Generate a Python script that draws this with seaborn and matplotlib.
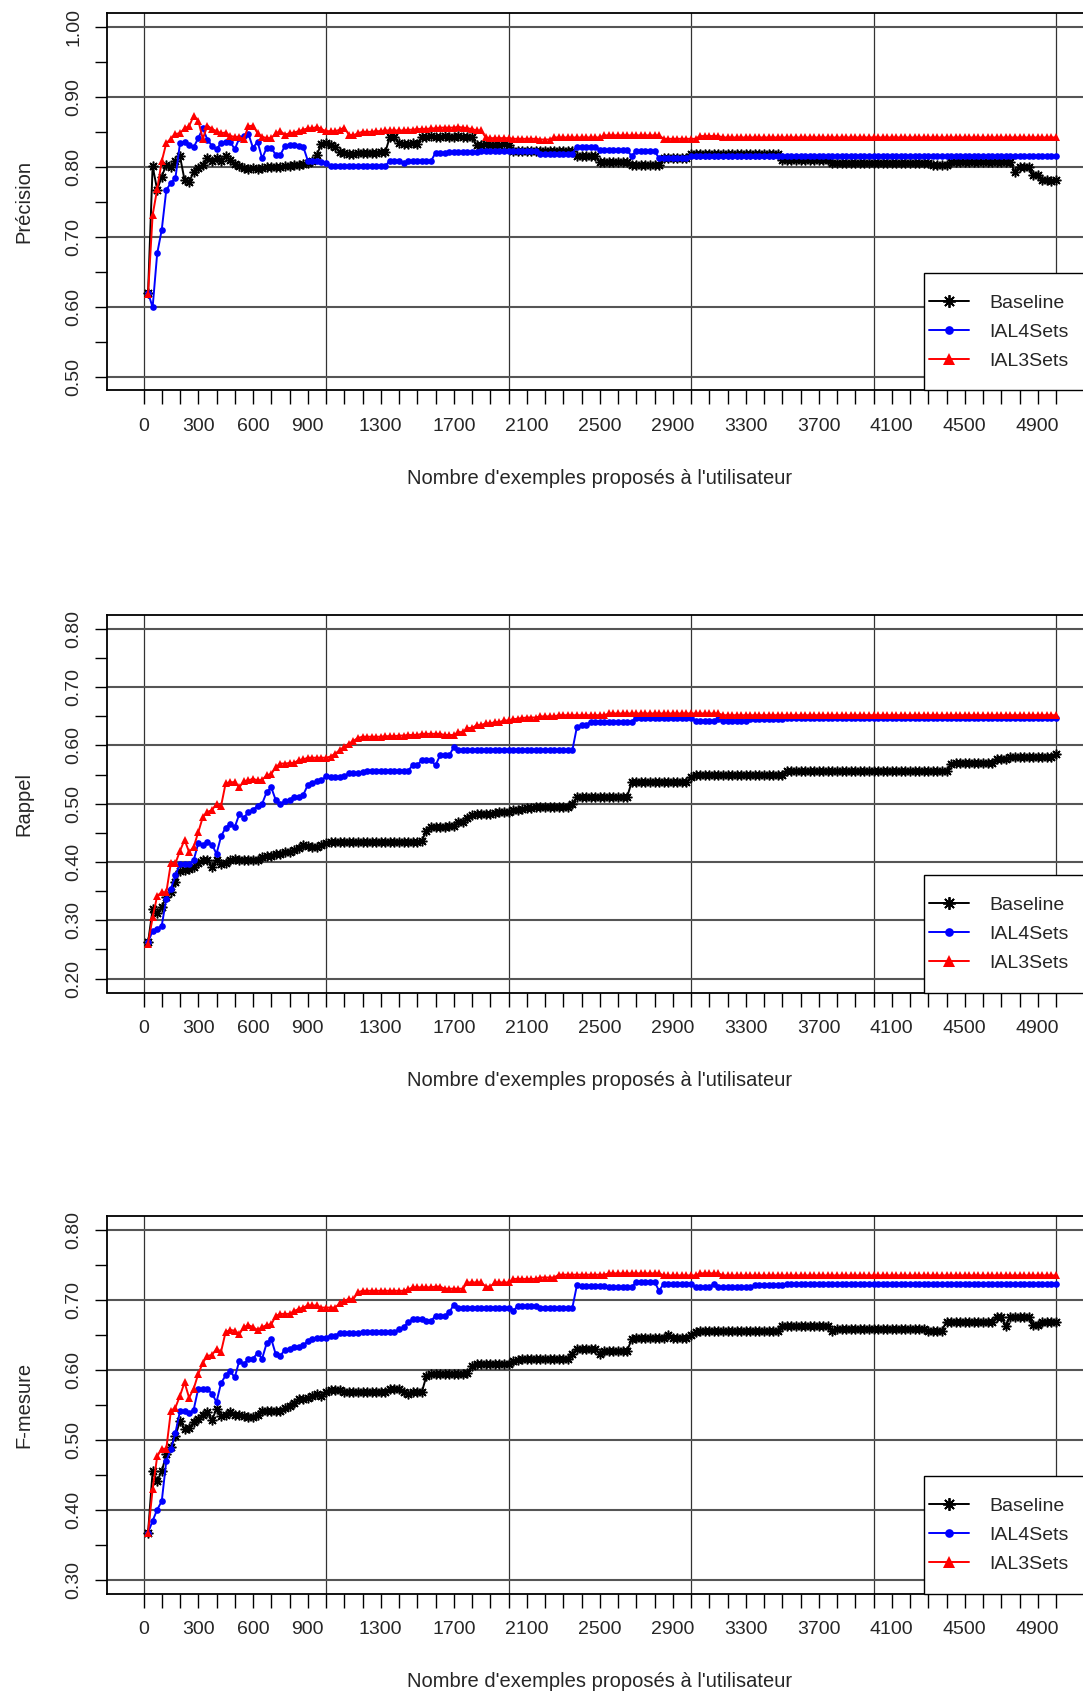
import numpy as np
import pandas as pd
import matplotlib
matplotlib.use("Agg")
import matplotlib.pyplot as plt
from matplotlib.lines import Line2D
from matplotlib.patches import Rectangle
import seaborn as sns

# ---------------- data (x = 25, 50, ..., 5000) ----------------
precision_baseline = [
    0.620, 0.801, 0.767, 0.786, 0.803, 0.800, 0.808, 0.815, 0.781, 0.778,
    0.793, 0.798, 0.803, 0.812, 0.808, 0.812, 0.808, 0.815, 0.810, 0.804,
    0.801, 0.798, 0.797, 0.798, 0.797, 0.798, 0.800, 0.800, 0.800, 0.800,
    0.801, 0.801, 0.802, 0.803, 0.804, 0.806, 0.808, 0.817, 0.833, 0.834,
    0.831, 0.829, 0.821, 0.820, 0.819, 0.819, 0.820, 0.820, 0.820, 0.820,
    0.820, 0.821, 0.821, 0.843, 0.842, 0.834, 0.833, 0.833, 0.834, 0.833,
    0.843, 0.843, 0.844, 0.843, 0.843, 0.844, 0.843, 0.843, 0.844, 0.843,
    0.843, 0.842, 0.831, 0.831, 0.832, 0.831, 0.831, 0.831, 0.832, 0.831,
    0.823, 0.822, 0.822, 0.823, 0.822, 0.823, 0.823, 0.823, 0.823, 0.823,
    0.823, 0.823, 0.823, 0.823, 0.816, 0.815, 0.816, 0.816, 0.815, 0.807,
    0.807, 0.807, 0.807, 0.807, 0.807, 0.807, 0.803, 0.803, 0.803, 0.803,
    0.803, 0.803, 0.803, 0.812, 0.812, 0.812, 0.812, 0.812, 0.812, 0.819,
    0.819, 0.819, 0.819, 0.819, 0.819, 0.819, 0.819, 0.819, 0.819, 0.819,
    0.819, 0.819, 0.819, 0.819, 0.819, 0.819, 0.819, 0.819, 0.819, 0.810,
    0.810, 0.810, 0.810, 0.810, 0.810, 0.810, 0.810, 0.810, 0.810, 0.810,
    0.805, 0.805, 0.805, 0.805, 0.805, 0.805, 0.805, 0.805, 0.805, 0.805,
    0.805, 0.805, 0.805, 0.805, 0.805, 0.805, 0.805, 0.805, 0.805, 0.805,
    0.805, 0.805, 0.802, 0.802, 0.802, 0.802, 0.807, 0.807, 0.807, 0.807,
    0.807, 0.807, 0.807, 0.807, 0.807, 0.807, 0.807, 0.807, 0.807, 0.807,
    0.792, 0.800, 0.800, 0.800, 0.788, 0.788, 0.781, 0.781, 0.780, 0.781,
]
precision_ial4 = [
    0.620, 0.599, 0.676, 0.710, 0.767, 0.777, 0.784, 0.834, 0.836, 0.831,
    0.828, 0.841, 0.855, 0.839, 0.830, 0.825, 0.834, 0.835, 0.836, 0.825,
    0.841, 0.844, 0.847, 0.827, 0.836, 0.812, 0.827, 0.827, 0.817, 0.817,
    0.830, 0.831, 0.831, 0.830, 0.829, 0.809, 0.808, 0.808, 0.807, 0.806,
    0.801, 0.801, 0.801, 0.801, 0.801, 0.801, 0.801, 0.801, 0.801, 0.801,
    0.801, 0.801, 0.801, 0.809, 0.809, 0.809, 0.805, 0.808, 0.808, 0.808,
    0.808, 0.808, 0.808, 0.820, 0.820, 0.820, 0.821, 0.821, 0.821, 0.821,
    0.821, 0.821, 0.821, 0.823, 0.823, 0.823, 0.823, 0.823, 0.823, 0.823,
    0.822, 0.822, 0.822, 0.822, 0.822, 0.822, 0.819, 0.819, 0.819, 0.819,
    0.819, 0.819, 0.819, 0.819, 0.829, 0.829, 0.829, 0.829, 0.829, 0.824,
    0.824, 0.824, 0.824, 0.824, 0.824, 0.824, 0.815, 0.823, 0.823, 0.823,
    0.823, 0.823, 0.812, 0.812, 0.812, 0.812, 0.812, 0.812, 0.812, 0.816,
    0.816, 0.816, 0.816, 0.816, 0.816, 0.816, 0.816, 0.816, 0.816, 0.816,
    0.816, 0.816, 0.815, 0.815, 0.815, 0.815, 0.815, 0.815, 0.815, 0.815,
    0.815, 0.815, 0.815, 0.815, 0.815, 0.815, 0.815, 0.815, 0.815, 0.815,
    0.815, 0.815, 0.815, 0.815, 0.815, 0.815, 0.815, 0.815, 0.815, 0.815,
    0.815, 0.815, 0.815, 0.815, 0.815, 0.815, 0.815, 0.815, 0.815, 0.815,
    0.815, 0.815, 0.815, 0.815, 0.815, 0.815, 0.815, 0.815, 0.815, 0.815,
    0.815, 0.815, 0.815, 0.815, 0.815, 0.815, 0.815, 0.815, 0.815, 0.815,
    0.815, 0.815, 0.815, 0.815, 0.815, 0.815, 0.815, 0.815, 0.815, 0.815,
]
precision_ial3 = [
    0.618, 0.731, 0.768, 0.808, 0.834, 0.840, 0.847, 0.848, 0.855, 0.858,
    0.873, 0.866, 0.840, 0.859, 0.854, 0.851, 0.848, 0.849, 0.844, 0.843,
    0.842, 0.840, 0.858, 0.859, 0.848, 0.843, 0.841, 0.841, 0.848, 0.851,
    0.846, 0.848, 0.849, 0.851, 0.853, 0.855, 0.855, 0.857, 0.854, 0.851,
    0.851, 0.851, 0.853, 0.856, 0.846, 0.845, 0.848, 0.850, 0.850, 0.850,
    0.851, 0.851, 0.852, 0.852, 0.852, 0.852, 0.852, 0.853, 0.853, 0.854,
    0.854, 0.854, 0.855, 0.855, 0.856, 0.856, 0.856, 0.856, 0.857, 0.856,
    0.855, 0.854, 0.852, 0.852, 0.842, 0.841, 0.841, 0.841, 0.841, 0.841,
    0.840, 0.840, 0.840, 0.840, 0.840, 0.840, 0.839, 0.839, 0.839, 0.842,
    0.842, 0.842, 0.842, 0.842, 0.842, 0.842, 0.842, 0.842, 0.842, 0.842,
    0.845, 0.845, 0.845, 0.845, 0.845, 0.845, 0.845, 0.845, 0.845, 0.845,
    0.845, 0.845, 0.845, 0.840, 0.840, 0.840, 0.840, 0.840, 0.840, 0.840,
    0.840, 0.844, 0.844, 0.844, 0.844, 0.844, 0.842, 0.842, 0.842, 0.842,
    0.842, 0.842, 0.842, 0.842, 0.842, 0.842, 0.842, 0.842, 0.842, 0.842,
    0.842, 0.842, 0.842, 0.842, 0.842, 0.842, 0.842, 0.842, 0.842, 0.842,
    0.842, 0.842, 0.842, 0.842, 0.842, 0.842, 0.842, 0.842, 0.842, 0.842,
    0.842, 0.842, 0.842, 0.842, 0.842, 0.842, 0.842, 0.842, 0.842, 0.842,
    0.842, 0.842, 0.842, 0.842, 0.842, 0.842, 0.842, 0.842, 0.842, 0.842,
    0.842, 0.842, 0.842, 0.842, 0.842, 0.842, 0.842, 0.842, 0.842, 0.842,
    0.842, 0.842, 0.842, 0.842, 0.842, 0.842, 0.842, 0.842, 0.842, 0.842,
]

rappel_baseline = [
    0.262, 0.319, 0.312, 0.323, 0.340, 0.348, 0.365, 0.385, 0.387, 0.388,
    0.391, 0.398, 0.403, 0.404, 0.392, 0.404, 0.397, 0.398, 0.403, 0.406,
    0.404, 0.404, 0.404, 0.404, 0.404, 0.408, 0.411, 0.411, 0.413, 0.414,
    0.417, 0.417, 0.420, 0.424, 0.430, 0.427, 0.425, 0.425, 0.430, 0.432,
    0.434, 0.434, 0.434, 0.434, 0.434, 0.434, 0.434, 0.434, 0.434, 0.434,
    0.434, 0.434, 0.434, 0.434, 0.434, 0.434, 0.434, 0.434, 0.434, 0.434,
    0.436, 0.454, 0.460, 0.460, 0.460, 0.460, 0.461, 0.462, 0.468, 0.468,
    0.475, 0.481, 0.483, 0.483, 0.483, 0.483, 0.484, 0.485, 0.486, 0.486,
    0.489, 0.490, 0.491, 0.492, 0.493, 0.494, 0.494, 0.494, 0.494, 0.494,
    0.494, 0.494, 0.494, 0.500, 0.511, 0.512, 0.512, 0.512, 0.512, 0.512,
    0.512, 0.512, 0.512, 0.512, 0.512, 0.512, 0.537, 0.537, 0.537, 0.537,
    0.537, 0.537, 0.537, 0.537, 0.537, 0.537, 0.537, 0.537, 0.537, 0.546,
    0.549, 0.549, 0.549, 0.549, 0.549, 0.549, 0.549, 0.549, 0.549, 0.549,
    0.549, 0.549, 0.549, 0.549, 0.549, 0.549, 0.549, 0.549, 0.549, 0.549,
    0.557, 0.557, 0.557, 0.557, 0.557, 0.557, 0.557, 0.557, 0.557, 0.557,
    0.557, 0.557, 0.557, 0.557, 0.557, 0.557, 0.557, 0.557, 0.557, 0.557,
    0.557, 0.557, 0.557, 0.557, 0.557, 0.557, 0.557, 0.557, 0.557, 0.557,
    0.557, 0.557, 0.557, 0.557, 0.557, 0.557, 0.569, 0.570, 0.570, 0.570,
    0.570, 0.570, 0.570, 0.570, 0.570, 0.570, 0.577, 0.577, 0.577, 0.580,
    0.580, 0.580, 0.580, 0.580, 0.580, 0.580, 0.580, 0.580, 0.580, 0.585,
]
rappel_ial4 = [
    0.262, 0.282, 0.285, 0.291, 0.337, 0.354, 0.377, 0.397, 0.397, 0.396,
    0.403, 0.432, 0.430, 0.434, 0.430, 0.414, 0.444, 0.459, 0.465, 0.460,
    0.482, 0.476, 0.486, 0.490, 0.496, 0.500, 0.520, 0.528, 0.506, 0.499,
    0.505, 0.507, 0.511, 0.512, 0.515, 0.532, 0.536, 0.539, 0.540, 0.547,
    0.546, 0.546, 0.546, 0.548, 0.552, 0.552, 0.552, 0.555, 0.557, 0.557,
    0.557, 0.557, 0.557, 0.557, 0.557, 0.557, 0.557, 0.557, 0.566, 0.566,
    0.575, 0.575, 0.575, 0.566, 0.583, 0.583, 0.583, 0.597, 0.593, 0.593,
    0.593, 0.593, 0.593, 0.593, 0.593, 0.593, 0.593, 0.593, 0.593, 0.593,
    0.593, 0.593, 0.593, 0.593, 0.593, 0.593, 0.592, 0.592, 0.592, 0.592,
    0.592, 0.592, 0.592, 0.592, 0.632, 0.635, 0.635, 0.641, 0.641, 0.641,
    0.641, 0.641, 0.641, 0.641, 0.641, 0.641, 0.641, 0.648, 0.648, 0.648,
    0.648, 0.648, 0.648, 0.648, 0.648, 0.648, 0.648, 0.648, 0.648, 0.648,
    0.642, 0.642, 0.642, 0.642, 0.642, 0.646, 0.642, 0.642, 0.642, 0.642,
    0.642, 0.642, 0.645, 0.645, 0.645, 0.645, 0.645, 0.645, 0.645, 0.645,
    0.648, 0.648, 0.648, 0.648, 0.648, 0.648, 0.648, 0.648, 0.648, 0.648,
    0.648, 0.648, 0.648, 0.648, 0.648, 0.648, 0.648, 0.648, 0.648, 0.648,
    0.648, 0.648, 0.648, 0.648, 0.648, 0.648, 0.648, 0.648, 0.648, 0.648,
    0.648, 0.648, 0.648, 0.648, 0.648, 0.648, 0.648, 0.648, 0.648, 0.648,
    0.648, 0.648, 0.648, 0.648, 0.648, 0.648, 0.648, 0.648, 0.648, 0.648,
    0.648, 0.648, 0.648, 0.648, 0.648, 0.648, 0.648, 0.648, 0.648, 0.648,
]
rappel_ial3 = [
    0.260, 0.305, 0.342, 0.348, 0.348, 0.398, 0.398, 0.419, 0.438, 0.417,
    0.426, 0.451, 0.477, 0.486, 0.489, 0.500, 0.496, 0.535, 0.537, 0.537,
    0.528, 0.539, 0.540, 0.543, 0.540, 0.541, 0.549, 0.551, 0.563, 0.569,
    0.569, 0.570, 0.570, 0.575, 0.576, 0.579, 0.579, 0.579, 0.579, 0.579,
    0.581, 0.586, 0.592, 0.598, 0.603, 0.608, 0.613, 0.615, 0.615, 0.615,
    0.615, 0.615, 0.616, 0.616, 0.616, 0.617, 0.617, 0.618, 0.618, 0.618,
    0.620, 0.620, 0.620, 0.620, 0.620, 0.618, 0.618, 0.618, 0.623, 0.623,
    0.630, 0.630, 0.635, 0.635, 0.638, 0.638, 0.640, 0.640, 0.643, 0.643,
    0.645, 0.646, 0.647, 0.648, 0.648, 0.648, 0.650, 0.650, 0.650, 0.650,
    0.652, 0.652, 0.652, 0.652, 0.652, 0.652, 0.652, 0.652, 0.652, 0.652,
    0.652, 0.655, 0.655, 0.655, 0.655, 0.655, 0.655, 0.655, 0.655, 0.655,
    0.655, 0.655, 0.655, 0.655, 0.655, 0.655, 0.655, 0.655, 0.655, 0.655,
    0.655, 0.655, 0.655, 0.655, 0.655, 0.655, 0.652, 0.652, 0.652, 0.652,
    0.652, 0.652, 0.652, 0.652, 0.652, 0.652, 0.652, 0.652, 0.652, 0.652,
    0.652, 0.652, 0.652, 0.652, 0.652, 0.652, 0.652, 0.652, 0.652, 0.652,
    0.652, 0.652, 0.652, 0.652, 0.652, 0.652, 0.652, 0.652, 0.652, 0.652,
    0.652, 0.652, 0.652, 0.652, 0.652, 0.652, 0.652, 0.652, 0.652, 0.652,
    0.652, 0.652, 0.652, 0.652, 0.652, 0.652, 0.652, 0.652, 0.652, 0.652,
    0.652, 0.652, 0.652, 0.652, 0.652, 0.652, 0.652, 0.652, 0.652, 0.652,
    0.652, 0.652, 0.652, 0.652, 0.652, 0.652, 0.652, 0.652, 0.652, 0.652,
]

fmesure_baseline = [
    0.367, 0.455, 0.441, 0.455, 0.479, 0.489, 0.505, 0.527, 0.515, 0.517,
    0.525, 0.529, 0.536, 0.540, 0.528, 0.544, 0.534, 0.536, 0.539, 0.536,
    0.535, 0.534, 0.533, 0.532, 0.536, 0.541, 0.541, 0.541, 0.541, 0.541,
    0.545, 0.548, 0.552, 0.558, 0.558, 0.559, 0.562, 0.565, 0.563, 0.568,
    0.571, 0.571, 0.571, 0.568, 0.568, 0.568, 0.568, 0.568, 0.568, 0.568,
    0.568, 0.568, 0.568, 0.572, 0.572, 0.572, 0.568, 0.565, 0.568, 0.568,
    0.568, 0.591, 0.594, 0.594, 0.594, 0.594, 0.594, 0.594, 0.594, 0.594,
    0.596, 0.606, 0.608, 0.608, 0.608, 0.608, 0.608, 0.608, 0.608, 0.608,
    0.612, 0.614, 0.616, 0.616, 0.616, 0.616, 0.616, 0.616, 0.616, 0.616,
    0.616, 0.616, 0.616, 0.623, 0.630, 0.630, 0.630, 0.630, 0.630, 0.622,
    0.627, 0.627, 0.627, 0.627, 0.627, 0.627, 0.644, 0.645, 0.645, 0.645,
    0.645, 0.645, 0.645, 0.645, 0.650, 0.646, 0.646, 0.646, 0.646, 0.650,
    0.654, 0.656, 0.656, 0.656, 0.656, 0.656, 0.656, 0.656, 0.656, 0.656,
    0.656, 0.656, 0.656, 0.656, 0.656, 0.656, 0.656, 0.656, 0.656, 0.663,
    0.662, 0.662, 0.662, 0.662, 0.662, 0.662, 0.662, 0.662, 0.662, 0.662,
    0.656, 0.659, 0.659, 0.659, 0.659, 0.659, 0.659, 0.659, 0.659, 0.659,
    0.659, 0.659, 0.659, 0.659, 0.659, 0.659, 0.659, 0.659, 0.659, 0.659,
    0.659, 0.656, 0.656, 0.656, 0.656, 0.669, 0.669, 0.669, 0.669, 0.669,
    0.669, 0.669, 0.669, 0.669, 0.669, 0.669, 0.675, 0.675, 0.663, 0.676,
    0.676, 0.676, 0.676, 0.676, 0.664, 0.664, 0.668, 0.668, 0.668, 0.668,
]
fmesure_ial4 = [
    0.367, 0.384, 0.400, 0.412, 0.470, 0.486, 0.510, 0.541, 0.541, 0.538,
    0.543, 0.573, 0.572, 0.572, 0.566, 0.554, 0.581, 0.592, 0.598, 0.589,
    0.613, 0.608, 0.616, 0.616, 0.624, 0.616, 0.638, 0.644, 0.622, 0.620,
    0.629, 0.630, 0.632, 0.633, 0.635, 0.641, 0.644, 0.646, 0.646, 0.646,
    0.649, 0.649, 0.653, 0.653, 0.653, 0.653, 0.653, 0.654, 0.654, 0.654,
    0.654, 0.654, 0.654, 0.654, 0.654, 0.658, 0.661, 0.668, 0.672, 0.672,
    0.672, 0.670, 0.670, 0.677, 0.677, 0.677, 0.682, 0.693, 0.689, 0.689,
    0.689, 0.689, 0.689, 0.689, 0.689, 0.689, 0.689, 0.689, 0.689, 0.689,
    0.684, 0.691, 0.691, 0.691, 0.691, 0.691, 0.689, 0.689, 0.689, 0.689,
    0.689, 0.689, 0.689, 0.689, 0.721, 0.720, 0.720, 0.720, 0.720, 0.720,
    0.720, 0.718, 0.718, 0.718, 0.718, 0.718, 0.718, 0.726, 0.726, 0.726,
    0.726, 0.726, 0.713, 0.723, 0.723, 0.723, 0.723, 0.723, 0.723, 0.723,
    0.718, 0.718, 0.718, 0.718, 0.723, 0.718, 0.718, 0.718, 0.718, 0.718,
    0.718, 0.718, 0.718, 0.721, 0.721, 0.721, 0.721, 0.721, 0.721, 0.721,
    0.723, 0.723, 0.723, 0.723, 0.723, 0.723, 0.723, 0.723, 0.723, 0.723,
    0.723, 0.723, 0.723, 0.723, 0.723, 0.723, 0.723, 0.723, 0.723, 0.723,
    0.723, 0.723, 0.723, 0.723, 0.723, 0.723, 0.723, 0.723, 0.723, 0.723,
    0.723, 0.723, 0.723, 0.723, 0.723, 0.723, 0.723, 0.723, 0.723, 0.723,
    0.723, 0.723, 0.723, 0.723, 0.723, 0.723, 0.723, 0.723, 0.723, 0.723,
    0.723, 0.723, 0.723, 0.723, 0.723, 0.723, 0.723, 0.723, 0.723, 0.723,
]
fmesure_ial3 = [
    0.367, 0.429, 0.476, 0.487, 0.487, 0.541, 0.546, 0.563, 0.582, 0.560,
    0.573, 0.594, 0.610, 0.620, 0.621, 0.630, 0.626, 0.654, 0.657, 0.656,
    0.651, 0.661, 0.664, 0.661, 0.657, 0.661, 0.664, 0.665, 0.677, 0.680,
    0.680, 0.680, 0.684, 0.687, 0.689, 0.692, 0.692, 0.692, 0.689, 0.689,
    0.689, 0.689, 0.695, 0.699, 0.701, 0.701, 0.711, 0.713, 0.713, 0.713,
    0.713, 0.713, 0.713, 0.713, 0.713, 0.713, 0.713, 0.715, 0.718, 0.718,
    0.718, 0.718, 0.718, 0.719, 0.719, 0.716, 0.716, 0.716, 0.716, 0.716,
    0.725, 0.725, 0.725, 0.725, 0.719, 0.719, 0.725, 0.725, 0.725, 0.725,
    0.730, 0.730, 0.730, 0.730, 0.730, 0.730, 0.732, 0.732, 0.732, 0.732,
    0.736, 0.736, 0.736, 0.736, 0.736, 0.736, 0.736, 0.736, 0.736, 0.736,
    0.736, 0.738, 0.738, 0.738, 0.738, 0.738, 0.738, 0.738, 0.738, 0.738,
    0.738, 0.738, 0.738, 0.735, 0.735, 0.735, 0.735, 0.735, 0.735, 0.735,
    0.735, 0.738, 0.738, 0.738, 0.738, 0.738, 0.735, 0.735, 0.735, 0.735,
    0.735, 0.735, 0.735, 0.735, 0.735, 0.735, 0.735, 0.735, 0.735, 0.735,
    0.735, 0.735, 0.735, 0.735, 0.735, 0.735, 0.735, 0.735, 0.735, 0.735,
    0.735, 0.735, 0.735, 0.735, 0.735, 0.735, 0.735, 0.735, 0.735, 0.735,
    0.735, 0.735, 0.735, 0.735, 0.735, 0.735, 0.735, 0.735, 0.735, 0.735,
    0.735, 0.735, 0.735, 0.735, 0.735, 0.735, 0.735, 0.735, 0.735, 0.735,
    0.735, 0.735, 0.735, 0.735, 0.735, 0.735, 0.735, 0.735, 0.735, 0.735,
    0.735, 0.735, 0.735, 0.735, 0.735, 0.735, 0.735, 0.735, 0.735, 0.735,
]

methods = ["Baseline", "IAL4Sets", "IAL3Sets"]
panels = [
    ("Précision", [precision_baseline, precision_ial4, precision_ial3], (0.50, 1.00)),
    ("Rappel", [rappel_baseline, rappel_ial4, rappel_ial3], (0.20, 0.80)),
    ("F-mesure", [fmesure_baseline, fmesure_ial4, fmesure_ial3], (0.30, 0.80)),
]
x_tick_labels = ["0", "300", "600", "900", "1300", "1700", "2100", "2500",
                 "2900", "3300", "3700", "4100", "4500", "4900"]
x_label = "Nombre d'exemples proposés à l'utilisateur"

# ---------------- style ----------------
sns.set_theme(style="white")
plt.rcParams["font.family"] = ["Liberation Sans", "DejaVu Sans"]

W, H = 1083, 1692
fig = plt.figure(figsize=(W / 100, H / 100), dpi=100)
fig.patch.set_facecolor("white")

styles = {
    "Baseline": dict(color="black", marker=(8, 2, 0), markersize=7.0,
                     markeredgewidth=1.1, markeredgecolor="black", zorder=3),
    "IAL4Sets": dict(color="#0000ff", marker="o", markersize=4.8,
                     markeredgewidth=0, markeredgecolor="#0000ff", zorder=4),
    "IAL3Sets": dict(color="#ff0000", marker="^", markersize=6.4,
                     markeredgewidth=0, markeredgecolor="#ff0000", zorder=5),
}

LEFT, RIGHT = 107.0, 1092.5
AX_H = 377.5
tops = [13.0, 615.0, 1216.0]
FS = 14

for (ylabel, series, (y0, y1)), top in zip(panels, tops):
    ax = fig.add_axes([LEFT / W, 1 - (top + AX_H) / H, (RIGHT - LEFT) / W, AX_H / H])
    ax.set_facecolor("white")

    frames = []
    for name, vals in zip(methods, series):
        xs = 25 * np.arange(1, len(vals) + 1)
        frames.append(pd.DataFrame({"exemples": xs, "valeur": vals, "methode": name}))
    df = pd.concat(frames, ignore_index=True)

    for name in methods:
        sub = df[df["methode"] == name]
        st = styles[name]
        sns.lineplot(data=sub, x="exemples", y="valeur", ax=ax, legend=False,
                     estimator=None, linewidth=1.4, **st)

    pad = 0.04 * (y1 - y0)
    ax.set_xlim(-200, 5200)
    ax.set_ylim(y0 - pad, y1 + pad)

    # grid
    for gx in range(0, 5001, 1000):
        ax.axvline(gx, color="#333333", lw=0.9, zorder=1)
    for gy in np.arange(y0, y1 + 1e-9, 0.1):
        ax.axhline(gy, color="#555555", lw=1.5, zorder=1)

    # ticks
    xt = np.arange(0, 5001, 100)
    ax.set_xticks(xt)
    ax.set_xticklabels([str(v) if str(v) in x_tick_labels else "" for v in xt])
    yt = np.round(np.arange(y0, y1 + 1e-9, 0.05), 2)
    ax.set_yticks(yt)
    ax.set_yticklabels([f"{v:.2f}" if abs(round(v * 10) - v * 10) < 1e-6 else "" for v in yt],
                       rotation=90, va="center")
    ax.tick_params(axis="x", direction="out", length=10, width=1.0, color="black",
                   labelsize=FS, pad=10, bottom=True)
    ax.tick_params(axis="y", direction="out", length=9, width=1.0, color="black",
                   labelsize=FS, pad=9, left=True)
    for s in ax.spines.values():
        s.set_color("black")
        s.set_linewidth(1.3)

    ax.set_xlabel(x_label, fontsize=14.5, labelpad=24)
    ax.set_ylabel(ylabel, fontsize=14.5, labelpad=23)

    # legend box
    rect = Rectangle((924 / W, 1 - (top + AX_H) / H), (1200 - 924) / W, (AX_H - 260) / H,
                     transform=fig.transFigure, facecolor="white", edgecolor="black",
                     lw=1.0, zorder=6, clip_on=False)
    ax.add_patch(rect)
    handles = [Line2D([0], [0], color=styles[m]["color"], lw=1.4,
                      marker=styles[m]["marker"],
                      markersize=styles[m]["markersize"] * 1.3,
                      markeredgewidth=styles[m]["markeredgewidth"] * 1.2,
                      markeredgecolor=styles[m]["markeredgecolor"]) for m in methods]
    leg = ax.legend(handles, methods, loc="center left",
                    bbox_to_anchor=(929 / W, 1 - (top + 319) / H),
                    bbox_transform=fig.transFigure, frameon=False, borderpad=0,
                    borderaxespad=0, handlelength=2.06, handletextpad=1.05,
                    labelspacing=0.6, fontsize=FS)
    leg.set_zorder(7)

fig.savefig("out.png", dpi=100, facecolor="white")
